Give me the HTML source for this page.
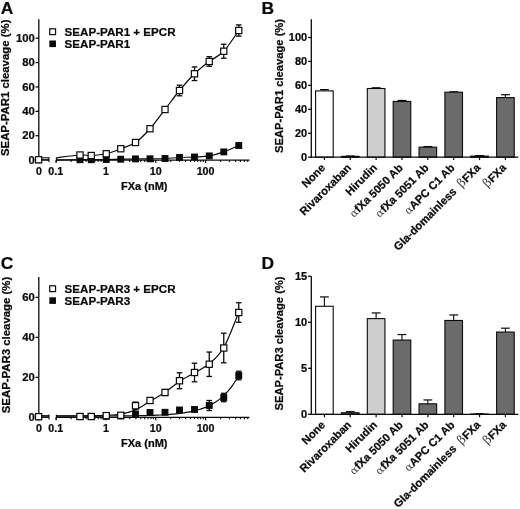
<!DOCTYPE html>
<html lang="en">
<head>
<meta charset="utf-8">
<title>SEAP-PAR1 and SEAP-PAR3 cleavage by FXa</title>
<style>
html,body{margin:0;padding:0;background:#fff;}
body{width:520px;height:509px;overflow:hidden;}
svg{display:block;will-change:transform;opacity:0.9999;}
svg text{font-family:'Liberation Sans', Arial, sans-serif;fill:#0a0a0a;stroke:#0a0a0a;stroke-width:0.24px;}
svg .b{font-family:'DejaVu Serif', 'Liberation Serif', serif;font-weight:normal;fill:#3c3c3c;stroke:none;font-size:12.2px;}
svg .g{font-family:'DejaVu Serif', 'Liberation Serif', serif;font-weight:normal;fill:#3c3c3c;stroke:none;font-size:10.6px;}
</style>
</head>
<body>
<svg width="520" height="509" viewBox="0 0 520 509">
<rect x="0" y="0" width="520" height="509" fill="#ffffff"/>
<text x="0.80" y="13.50" font-size="17.4" text-anchor="start" font-weight="bold" >A</text>
<line x1="38.80" y1="19.30" x2="38.80" y2="160.75" stroke="#0a0a0a" stroke-width="1.3" stroke-linecap="butt"/>
<line x1="35.60" y1="160.10" x2="38.80" y2="160.10" stroke="#0a0a0a" stroke-width="1.3" stroke-linecap="butt"/>
<text x="34.80" y="163.70" font-size="11.3" text-anchor="end" font-weight="bold" >0</text>
<line x1="35.60" y1="135.72" x2="38.80" y2="135.72" stroke="#0a0a0a" stroke-width="1.3" stroke-linecap="butt"/>
<text x="34.80" y="139.32" font-size="11.3" text-anchor="end" font-weight="bold" >20</text>
<line x1="35.60" y1="111.34" x2="38.80" y2="111.34" stroke="#0a0a0a" stroke-width="1.3" stroke-linecap="butt"/>
<text x="34.80" y="114.94" font-size="11.3" text-anchor="end" font-weight="bold" >40</text>
<line x1="35.60" y1="86.96" x2="38.80" y2="86.96" stroke="#0a0a0a" stroke-width="1.3" stroke-linecap="butt"/>
<text x="34.80" y="90.56" font-size="11.3" text-anchor="end" font-weight="bold" >60</text>
<line x1="35.60" y1="62.58" x2="38.80" y2="62.58" stroke="#0a0a0a" stroke-width="1.3" stroke-linecap="butt"/>
<text x="34.80" y="66.18" font-size="11.3" text-anchor="end" font-weight="bold" >80</text>
<line x1="35.60" y1="38.20" x2="38.80" y2="38.20" stroke="#0a0a0a" stroke-width="1.3" stroke-linecap="butt"/>
<text x="34.80" y="41.80" font-size="11.3" text-anchor="end" font-weight="bold" >100</text>
<text transform="translate(9.3,87.8) rotate(-90)" font-size="11.4" text-anchor="middle" font-weight="bold">SEAP-PAR1 cleavage (%)</text>
<line x1="38.80" y1="160.10" x2="49.00" y2="160.10" stroke="#0a0a0a" stroke-width="1.2" stroke-linecap="butt"/>
<line x1="56.40" y1="160.10" x2="249.40" y2="160.10" stroke="#0a0a0a" stroke-width="1.2" stroke-linecap="butt"/>
<line x1="49.00" y1="157.20" x2="49.00" y2="162.20" stroke="#0a0a0a" stroke-width="1.1" stroke-linecap="butt"/>
<line x1="56.40" y1="157.50" x2="56.40" y2="162.20" stroke="#0a0a0a" stroke-width="1.1" stroke-linecap="butt"/>
<line x1="38.80" y1="160.10" x2="38.80" y2="163.30" stroke="#0a0a0a" stroke-width="1.3" stroke-linecap="butt"/>
<line x1="56.05" y1="160.10" x2="56.05" y2="163.00" stroke="#0a0a0a" stroke-width="1.2" stroke-linecap="butt"/>
<line x1="71.06" y1="160.10" x2="71.06" y2="161.90" stroke="#0a0a0a" stroke-width="1.1" stroke-linecap="butt"/>
<line x1="79.83" y1="160.10" x2="79.83" y2="161.90" stroke="#0a0a0a" stroke-width="1.1" stroke-linecap="butt"/>
<line x1="86.06" y1="160.10" x2="86.06" y2="161.90" stroke="#0a0a0a" stroke-width="1.1" stroke-linecap="butt"/>
<line x1="90.89" y1="160.10" x2="90.89" y2="161.90" stroke="#0a0a0a" stroke-width="1.1" stroke-linecap="butt"/>
<line x1="94.84" y1="160.10" x2="94.84" y2="161.90" stroke="#0a0a0a" stroke-width="1.1" stroke-linecap="butt"/>
<line x1="98.18" y1="160.10" x2="98.18" y2="161.90" stroke="#0a0a0a" stroke-width="1.1" stroke-linecap="butt"/>
<line x1="101.07" y1="160.10" x2="101.07" y2="161.90" stroke="#0a0a0a" stroke-width="1.1" stroke-linecap="butt"/>
<line x1="103.62" y1="160.10" x2="103.62" y2="161.90" stroke="#0a0a0a" stroke-width="1.1" stroke-linecap="butt"/>
<line x1="105.90" y1="160.10" x2="105.90" y2="163.00" stroke="#0a0a0a" stroke-width="1.2" stroke-linecap="butt"/>
<line x1="120.91" y1="160.10" x2="120.91" y2="161.90" stroke="#0a0a0a" stroke-width="1.1" stroke-linecap="butt"/>
<line x1="129.68" y1="160.10" x2="129.68" y2="161.90" stroke="#0a0a0a" stroke-width="1.1" stroke-linecap="butt"/>
<line x1="135.91" y1="160.10" x2="135.91" y2="161.90" stroke="#0a0a0a" stroke-width="1.1" stroke-linecap="butt"/>
<line x1="140.74" y1="160.10" x2="140.74" y2="161.90" stroke="#0a0a0a" stroke-width="1.1" stroke-linecap="butt"/>
<line x1="144.69" y1="160.10" x2="144.69" y2="161.90" stroke="#0a0a0a" stroke-width="1.1" stroke-linecap="butt"/>
<line x1="148.03" y1="160.10" x2="148.03" y2="161.90" stroke="#0a0a0a" stroke-width="1.1" stroke-linecap="butt"/>
<line x1="150.92" y1="160.10" x2="150.92" y2="161.90" stroke="#0a0a0a" stroke-width="1.1" stroke-linecap="butt"/>
<line x1="153.47" y1="160.10" x2="153.47" y2="161.90" stroke="#0a0a0a" stroke-width="1.1" stroke-linecap="butt"/>
<line x1="155.75" y1="160.10" x2="155.75" y2="163.00" stroke="#0a0a0a" stroke-width="1.2" stroke-linecap="butt"/>
<line x1="170.76" y1="160.10" x2="170.76" y2="161.90" stroke="#0a0a0a" stroke-width="1.1" stroke-linecap="butt"/>
<line x1="179.53" y1="160.10" x2="179.53" y2="161.90" stroke="#0a0a0a" stroke-width="1.1" stroke-linecap="butt"/>
<line x1="185.76" y1="160.10" x2="185.76" y2="161.90" stroke="#0a0a0a" stroke-width="1.1" stroke-linecap="butt"/>
<line x1="190.59" y1="160.10" x2="190.59" y2="161.90" stroke="#0a0a0a" stroke-width="1.1" stroke-linecap="butt"/>
<line x1="194.54" y1="160.10" x2="194.54" y2="161.90" stroke="#0a0a0a" stroke-width="1.1" stroke-linecap="butt"/>
<line x1="197.88" y1="160.10" x2="197.88" y2="161.90" stroke="#0a0a0a" stroke-width="1.1" stroke-linecap="butt"/>
<line x1="200.77" y1="160.10" x2="200.77" y2="161.90" stroke="#0a0a0a" stroke-width="1.1" stroke-linecap="butt"/>
<line x1="203.32" y1="160.10" x2="203.32" y2="161.90" stroke="#0a0a0a" stroke-width="1.1" stroke-linecap="butt"/>
<line x1="205.60" y1="160.10" x2="205.60" y2="163.00" stroke="#0a0a0a" stroke-width="1.2" stroke-linecap="butt"/>
<line x1="220.61" y1="160.10" x2="220.61" y2="161.90" stroke="#0a0a0a" stroke-width="1.1" stroke-linecap="butt"/>
<line x1="229.38" y1="160.10" x2="229.38" y2="161.90" stroke="#0a0a0a" stroke-width="1.1" stroke-linecap="butt"/>
<line x1="235.61" y1="160.10" x2="235.61" y2="161.90" stroke="#0a0a0a" stroke-width="1.1" stroke-linecap="butt"/>
<line x1="240.44" y1="160.10" x2="240.44" y2="161.90" stroke="#0a0a0a" stroke-width="1.1" stroke-linecap="butt"/>
<line x1="244.39" y1="160.10" x2="244.39" y2="161.90" stroke="#0a0a0a" stroke-width="1.1" stroke-linecap="butt"/>
<line x1="247.73" y1="160.10" x2="247.73" y2="161.90" stroke="#0a0a0a" stroke-width="1.1" stroke-linecap="butt"/>
<text x="39.00" y="174.80" font-size="10.7" text-anchor="middle" font-weight="bold" >0</text>
<text x="55.80" y="174.80" font-size="10.7" text-anchor="middle" font-weight="bold" >0.1</text>
<text x="105.90" y="174.80" font-size="10.7" text-anchor="middle" font-weight="bold" >1</text>
<text x="155.75" y="174.80" font-size="10.7" text-anchor="middle" font-weight="bold" >10</text>
<text x="205.60" y="174.80" font-size="10.7" text-anchor="middle" font-weight="bold" >100</text>
<text x="144.30" y="190.10" font-size="11" text-anchor="middle" font-weight="bold" >FXa (nM)</text>
<rect x="49.75" y="28.80" width="5.80" height="5.80" fill="#fff" stroke="#0a0a0a" stroke-width="1.2"/>
<rect x="49.35" y="40.50" width="6.60" height="6.60" fill="#0a0a0a" stroke="#0a0a0a" stroke-width="0"/>
<text x="64.60" y="35.70" font-size="11.6" text-anchor="start" font-weight="bold" >SEAP-PAR1 + EPCR</text>
<text x="64.60" y="47.80" font-size="11.6" text-anchor="start" font-weight="bold" >SEAP-PAR1</text>
<line x1="38.80" y1="159.80" x2="49.00" y2="159.80" stroke="#0a0a0a" stroke-width="1.1" stroke-linecap="butt"/>
<path d="M56.40,159.80 C60.33,159.78 74.19,159.72 80.00,159.70 C85.81,159.68 86.88,159.73 91.25,159.70 C95.62,159.67 101.33,159.58 106.25,159.50 C111.17,159.42 115.88,159.30 120.75,159.20 C125.62,159.10 130.62,158.97 135.50,158.90 C140.38,158.83 145.08,158.87 150.00,158.80 C154.92,158.73 160.08,158.72 165.00,158.50 C169.92,158.28 174.58,157.75 179.50,157.50 C184.42,157.25 189.54,157.27 194.50,157.00 C199.46,156.73 204.38,156.75 209.25,155.90 C214.12,155.05 218.83,153.63 223.75,151.90 C228.67,150.17 236.25,146.57 238.75,145.50" fill="none" stroke="#0a0a0a" stroke-width="1.2"/>
<line x1="38.80" y1="157.80" x2="49.00" y2="157.80" stroke="#0a0a0a" stroke-width="1.1" stroke-linecap="butt"/>
<path d="M56.40,157.80 C60.33,157.33 74.19,155.38 80.00,155.00 C85.81,154.62 86.88,155.71 91.25,155.50 C95.62,155.29 101.33,154.88 106.25,153.75 C111.17,152.62 115.88,150.62 120.75,148.75 C125.62,146.88 130.62,145.83 135.50,142.50 C140.38,139.17 145.08,134.25 150.00,128.75 C154.92,123.25 160.08,115.88 165.00,109.50 C169.92,103.12 174.58,96.46 179.50,90.50 C184.42,84.54 189.54,78.58 194.50,73.75 C199.46,68.92 204.38,65.25 209.25,61.50 C214.12,57.75 218.83,56.42 223.75,51.25 C228.67,46.08 236.25,33.96 238.75,30.50" fill="none" stroke="#0a0a0a" stroke-width="1.2"/>
<rect x="35.15" y="156.30" width="6.90" height="6.90" fill="#0a0a0a" stroke="#0a0a0a" stroke-width="0"/>
<rect x="76.55" y="156.25" width="6.90" height="6.90" fill="#0a0a0a" stroke="#0a0a0a" stroke-width="0"/>
<rect x="87.80" y="156.25" width="6.90" height="6.90" fill="#0a0a0a" stroke="#0a0a0a" stroke-width="0"/>
<rect x="102.80" y="156.05" width="6.90" height="6.90" fill="#0a0a0a" stroke="#0a0a0a" stroke-width="0"/>
<rect x="117.30" y="155.75" width="6.90" height="6.90" fill="#0a0a0a" stroke="#0a0a0a" stroke-width="0"/>
<rect x="132.05" y="155.45" width="6.90" height="6.90" fill="#0a0a0a" stroke="#0a0a0a" stroke-width="0"/>
<rect x="146.55" y="155.35" width="6.90" height="6.90" fill="#0a0a0a" stroke="#0a0a0a" stroke-width="0"/>
<rect x="161.55" y="155.05" width="6.90" height="6.90" fill="#0a0a0a" stroke="#0a0a0a" stroke-width="0"/>
<rect x="176.05" y="154.05" width="6.90" height="6.90" fill="#0a0a0a" stroke="#0a0a0a" stroke-width="0"/>
<rect x="191.05" y="153.55" width="6.90" height="6.90" fill="#0a0a0a" stroke="#0a0a0a" stroke-width="0"/>
<rect x="205.80" y="152.45" width="6.90" height="6.90" fill="#0a0a0a" stroke="#0a0a0a" stroke-width="0"/>
<rect x="220.30" y="148.45" width="6.90" height="6.90" fill="#0a0a0a" stroke="#0a0a0a" stroke-width="0"/>
<rect x="235.30" y="142.05" width="6.90" height="6.90" fill="#0a0a0a" stroke="#0a0a0a" stroke-width="0"/>
<line x1="150.00" y1="128.75" x2="150.00" y2="127.25" stroke="#0a0a0a" stroke-width="1.3" stroke-linecap="butt"/>
<line x1="147.20" y1="127.25" x2="152.80" y2="127.25" stroke="#0a0a0a" stroke-width="1.3" stroke-linecap="butt"/>
<line x1="150.00" y1="128.75" x2="150.00" y2="130.25" stroke="#0a0a0a" stroke-width="1.3" stroke-linecap="butt"/>
<line x1="147.20" y1="130.25" x2="152.80" y2="130.25" stroke="#0a0a0a" stroke-width="1.3" stroke-linecap="butt"/>
<line x1="165.00" y1="109.50" x2="165.00" y2="107.00" stroke="#0a0a0a" stroke-width="1.3" stroke-linecap="butt"/>
<line x1="162.20" y1="107.00" x2="167.80" y2="107.00" stroke="#0a0a0a" stroke-width="1.3" stroke-linecap="butt"/>
<line x1="165.00" y1="109.50" x2="165.00" y2="112.00" stroke="#0a0a0a" stroke-width="1.3" stroke-linecap="butt"/>
<line x1="162.20" y1="112.00" x2="167.80" y2="112.00" stroke="#0a0a0a" stroke-width="1.3" stroke-linecap="butt"/>
<line x1="179.50" y1="90.50" x2="179.50" y2="85.20" stroke="#0a0a0a" stroke-width="1.3" stroke-linecap="butt"/>
<line x1="176.70" y1="85.20" x2="182.30" y2="85.20" stroke="#0a0a0a" stroke-width="1.3" stroke-linecap="butt"/>
<line x1="179.50" y1="90.50" x2="179.50" y2="95.80" stroke="#0a0a0a" stroke-width="1.3" stroke-linecap="butt"/>
<line x1="176.70" y1="95.80" x2="182.30" y2="95.80" stroke="#0a0a0a" stroke-width="1.3" stroke-linecap="butt"/>
<line x1="194.50" y1="73.75" x2="194.50" y2="66.95" stroke="#0a0a0a" stroke-width="1.3" stroke-linecap="butt"/>
<line x1="191.70" y1="66.95" x2="197.30" y2="66.95" stroke="#0a0a0a" stroke-width="1.3" stroke-linecap="butt"/>
<line x1="194.50" y1="73.75" x2="194.50" y2="80.55" stroke="#0a0a0a" stroke-width="1.3" stroke-linecap="butt"/>
<line x1="191.70" y1="80.55" x2="197.30" y2="80.55" stroke="#0a0a0a" stroke-width="1.3" stroke-linecap="butt"/>
<line x1="209.25" y1="61.50" x2="209.25" y2="56.70" stroke="#0a0a0a" stroke-width="1.3" stroke-linecap="butt"/>
<line x1="206.45" y1="56.70" x2="212.05" y2="56.70" stroke="#0a0a0a" stroke-width="1.3" stroke-linecap="butt"/>
<line x1="209.25" y1="61.50" x2="209.25" y2="66.30" stroke="#0a0a0a" stroke-width="1.3" stroke-linecap="butt"/>
<line x1="206.45" y1="66.30" x2="212.05" y2="66.30" stroke="#0a0a0a" stroke-width="1.3" stroke-linecap="butt"/>
<line x1="223.75" y1="51.25" x2="223.75" y2="44.25" stroke="#0a0a0a" stroke-width="1.3" stroke-linecap="butt"/>
<line x1="220.95" y1="44.25" x2="226.55" y2="44.25" stroke="#0a0a0a" stroke-width="1.3" stroke-linecap="butt"/>
<line x1="223.75" y1="51.25" x2="223.75" y2="58.25" stroke="#0a0a0a" stroke-width="1.3" stroke-linecap="butt"/>
<line x1="220.95" y1="58.25" x2="226.55" y2="58.25" stroke="#0a0a0a" stroke-width="1.3" stroke-linecap="butt"/>
<line x1="238.75" y1="30.50" x2="238.75" y2="24.90" stroke="#0a0a0a" stroke-width="1.3" stroke-linecap="butt"/>
<line x1="235.95" y1="24.90" x2="241.55" y2="24.90" stroke="#0a0a0a" stroke-width="1.3" stroke-linecap="butt"/>
<line x1="238.75" y1="30.50" x2="238.75" y2="36.10" stroke="#0a0a0a" stroke-width="1.3" stroke-linecap="butt"/>
<line x1="235.95" y1="36.10" x2="241.55" y2="36.10" stroke="#0a0a0a" stroke-width="1.3" stroke-linecap="butt"/>
<rect x="35.50" y="156.65" width="6.20" height="6.20" fill="#fff" stroke="#0a0a0a" stroke-width="1.2"/>
<rect x="76.90" y="151.90" width="6.20" height="6.20" fill="#fff" stroke="#0a0a0a" stroke-width="1.2"/>
<rect x="88.15" y="152.40" width="6.20" height="6.20" fill="#fff" stroke="#0a0a0a" stroke-width="1.2"/>
<rect x="103.15" y="150.65" width="6.20" height="6.20" fill="#fff" stroke="#0a0a0a" stroke-width="1.2"/>
<rect x="117.65" y="145.65" width="6.20" height="6.20" fill="#fff" stroke="#0a0a0a" stroke-width="1.2"/>
<rect x="132.40" y="139.40" width="6.20" height="6.20" fill="#fff" stroke="#0a0a0a" stroke-width="1.2"/>
<rect x="146.90" y="125.65" width="6.20" height="6.20" fill="#fff" stroke="#0a0a0a" stroke-width="1.2"/>
<rect x="161.90" y="106.40" width="6.20" height="6.20" fill="#fff" stroke="#0a0a0a" stroke-width="1.2"/>
<rect x="176.40" y="87.40" width="6.20" height="6.20" fill="#fff" stroke="#0a0a0a" stroke-width="1.2"/>
<rect x="191.40" y="70.65" width="6.20" height="6.20" fill="#fff" stroke="#0a0a0a" stroke-width="1.2"/>
<rect x="206.15" y="58.40" width="6.20" height="6.20" fill="#fff" stroke="#0a0a0a" stroke-width="1.2"/>
<rect x="220.65" y="48.15" width="6.20" height="6.20" fill="#fff" stroke="#0a0a0a" stroke-width="1.2"/>
<rect x="235.65" y="27.40" width="6.20" height="6.20" fill="#fff" stroke="#0a0a0a" stroke-width="1.2"/>
<text x="0.80" y="268.60" font-size="17.4" text-anchor="start" font-weight="bold" >C</text>
<line x1="38.80" y1="277.00" x2="38.80" y2="418.00" stroke="#0a0a0a" stroke-width="1.3" stroke-linecap="butt"/>
<line x1="35.60" y1="417.35" x2="38.80" y2="417.35" stroke="#0a0a0a" stroke-width="1.3" stroke-linecap="butt"/>
<text x="34.80" y="420.95" font-size="11.3" text-anchor="end" font-weight="bold" >0</text>
<line x1="35.60" y1="377.35" x2="38.80" y2="377.35" stroke="#0a0a0a" stroke-width="1.3" stroke-linecap="butt"/>
<text x="34.80" y="380.95" font-size="11.3" text-anchor="end" font-weight="bold" >20</text>
<line x1="35.60" y1="337.35" x2="38.80" y2="337.35" stroke="#0a0a0a" stroke-width="1.3" stroke-linecap="butt"/>
<text x="34.80" y="340.95" font-size="11.3" text-anchor="end" font-weight="bold" >40</text>
<line x1="35.60" y1="297.35" x2="38.80" y2="297.35" stroke="#0a0a0a" stroke-width="1.3" stroke-linecap="butt"/>
<text x="34.80" y="300.95" font-size="11.3" text-anchor="end" font-weight="bold" >60</text>
<text transform="translate(9.8,345.0) rotate(-90)" font-size="11.4" text-anchor="middle" font-weight="bold">SEAP-PAR3 cleavage (%)</text>
<line x1="38.80" y1="417.35" x2="49.00" y2="417.35" stroke="#0a0a0a" stroke-width="1.2" stroke-linecap="butt"/>
<line x1="56.40" y1="417.35" x2="249.40" y2="417.35" stroke="#0a0a0a" stroke-width="1.2" stroke-linecap="butt"/>
<line x1="49.00" y1="414.45" x2="49.00" y2="419.45" stroke="#0a0a0a" stroke-width="1.1" stroke-linecap="butt"/>
<line x1="56.40" y1="414.75" x2="56.40" y2="419.45" stroke="#0a0a0a" stroke-width="1.1" stroke-linecap="butt"/>
<line x1="38.80" y1="417.35" x2="38.80" y2="420.55" stroke="#0a0a0a" stroke-width="1.3" stroke-linecap="butt"/>
<line x1="56.05" y1="417.35" x2="56.05" y2="420.25" stroke="#0a0a0a" stroke-width="1.2" stroke-linecap="butt"/>
<line x1="71.06" y1="417.35" x2="71.06" y2="419.15" stroke="#0a0a0a" stroke-width="1.1" stroke-linecap="butt"/>
<line x1="79.83" y1="417.35" x2="79.83" y2="419.15" stroke="#0a0a0a" stroke-width="1.1" stroke-linecap="butt"/>
<line x1="86.06" y1="417.35" x2="86.06" y2="419.15" stroke="#0a0a0a" stroke-width="1.1" stroke-linecap="butt"/>
<line x1="90.89" y1="417.35" x2="90.89" y2="419.15" stroke="#0a0a0a" stroke-width="1.1" stroke-linecap="butt"/>
<line x1="94.84" y1="417.35" x2="94.84" y2="419.15" stroke="#0a0a0a" stroke-width="1.1" stroke-linecap="butt"/>
<line x1="98.18" y1="417.35" x2="98.18" y2="419.15" stroke="#0a0a0a" stroke-width="1.1" stroke-linecap="butt"/>
<line x1="101.07" y1="417.35" x2="101.07" y2="419.15" stroke="#0a0a0a" stroke-width="1.1" stroke-linecap="butt"/>
<line x1="103.62" y1="417.35" x2="103.62" y2="419.15" stroke="#0a0a0a" stroke-width="1.1" stroke-linecap="butt"/>
<line x1="105.90" y1="417.35" x2="105.90" y2="420.25" stroke="#0a0a0a" stroke-width="1.2" stroke-linecap="butt"/>
<line x1="120.91" y1="417.35" x2="120.91" y2="419.15" stroke="#0a0a0a" stroke-width="1.1" stroke-linecap="butt"/>
<line x1="129.68" y1="417.35" x2="129.68" y2="419.15" stroke="#0a0a0a" stroke-width="1.1" stroke-linecap="butt"/>
<line x1="135.91" y1="417.35" x2="135.91" y2="419.15" stroke="#0a0a0a" stroke-width="1.1" stroke-linecap="butt"/>
<line x1="140.74" y1="417.35" x2="140.74" y2="419.15" stroke="#0a0a0a" stroke-width="1.1" stroke-linecap="butt"/>
<line x1="144.69" y1="417.35" x2="144.69" y2="419.15" stroke="#0a0a0a" stroke-width="1.1" stroke-linecap="butt"/>
<line x1="148.03" y1="417.35" x2="148.03" y2="419.15" stroke="#0a0a0a" stroke-width="1.1" stroke-linecap="butt"/>
<line x1="150.92" y1="417.35" x2="150.92" y2="419.15" stroke="#0a0a0a" stroke-width="1.1" stroke-linecap="butt"/>
<line x1="153.47" y1="417.35" x2="153.47" y2="419.15" stroke="#0a0a0a" stroke-width="1.1" stroke-linecap="butt"/>
<line x1="155.75" y1="417.35" x2="155.75" y2="420.25" stroke="#0a0a0a" stroke-width="1.2" stroke-linecap="butt"/>
<line x1="170.76" y1="417.35" x2="170.76" y2="419.15" stroke="#0a0a0a" stroke-width="1.1" stroke-linecap="butt"/>
<line x1="179.53" y1="417.35" x2="179.53" y2="419.15" stroke="#0a0a0a" stroke-width="1.1" stroke-linecap="butt"/>
<line x1="185.76" y1="417.35" x2="185.76" y2="419.15" stroke="#0a0a0a" stroke-width="1.1" stroke-linecap="butt"/>
<line x1="190.59" y1="417.35" x2="190.59" y2="419.15" stroke="#0a0a0a" stroke-width="1.1" stroke-linecap="butt"/>
<line x1="194.54" y1="417.35" x2="194.54" y2="419.15" stroke="#0a0a0a" stroke-width="1.1" stroke-linecap="butt"/>
<line x1="197.88" y1="417.35" x2="197.88" y2="419.15" stroke="#0a0a0a" stroke-width="1.1" stroke-linecap="butt"/>
<line x1="200.77" y1="417.35" x2="200.77" y2="419.15" stroke="#0a0a0a" stroke-width="1.1" stroke-linecap="butt"/>
<line x1="203.32" y1="417.35" x2="203.32" y2="419.15" stroke="#0a0a0a" stroke-width="1.1" stroke-linecap="butt"/>
<line x1="205.60" y1="417.35" x2="205.60" y2="420.25" stroke="#0a0a0a" stroke-width="1.2" stroke-linecap="butt"/>
<line x1="220.61" y1="417.35" x2="220.61" y2="419.15" stroke="#0a0a0a" stroke-width="1.1" stroke-linecap="butt"/>
<line x1="229.38" y1="417.35" x2="229.38" y2="419.15" stroke="#0a0a0a" stroke-width="1.1" stroke-linecap="butt"/>
<line x1="235.61" y1="417.35" x2="235.61" y2="419.15" stroke="#0a0a0a" stroke-width="1.1" stroke-linecap="butt"/>
<line x1="240.44" y1="417.35" x2="240.44" y2="419.15" stroke="#0a0a0a" stroke-width="1.1" stroke-linecap="butt"/>
<line x1="244.39" y1="417.35" x2="244.39" y2="419.15" stroke="#0a0a0a" stroke-width="1.1" stroke-linecap="butt"/>
<line x1="247.73" y1="417.35" x2="247.73" y2="419.15" stroke="#0a0a0a" stroke-width="1.1" stroke-linecap="butt"/>
<text x="39.00" y="432.05" font-size="10.7" text-anchor="middle" font-weight="bold" >0</text>
<text x="55.80" y="432.05" font-size="10.7" text-anchor="middle" font-weight="bold" >0.1</text>
<text x="105.90" y="432.05" font-size="10.7" text-anchor="middle" font-weight="bold" >1</text>
<text x="155.75" y="432.05" font-size="10.7" text-anchor="middle" font-weight="bold" >10</text>
<text x="205.60" y="432.05" font-size="10.7" text-anchor="middle" font-weight="bold" >100</text>
<text x="144.30" y="447.40" font-size="11" text-anchor="middle" font-weight="bold" >FXa (nM)</text>
<rect x="49.75" y="285.80" width="5.80" height="5.80" fill="#fff" stroke="#0a0a0a" stroke-width="1.2"/>
<rect x="49.35" y="297.30" width="6.60" height="6.60" fill="#0a0a0a" stroke="#0a0a0a" stroke-width="0"/>
<text x="64.60" y="292.70" font-size="11.6" text-anchor="start" font-weight="bold" >SEAP-PAR3 + EPCR</text>
<text x="64.60" y="304.60" font-size="11.6" text-anchor="start" font-weight="bold" >SEAP-PAR3</text>
<line x1="38.80" y1="416.10" x2="49.00" y2="416.10" stroke="#0a0a0a" stroke-width="1.1" stroke-linecap="butt"/>
<path d="M56.40,416.10 C60.33,416.10 75.40,416.08 80.00,416.07 C84.60,416.07 82.67,416.07 84.00,416.07 C85.33,416.07 86.67,416.06 88.00,416.06 C89.33,416.06 90.67,416.06 92.00,416.05 C93.33,416.05 94.67,416.05 96.00,416.04 C97.33,416.04 98.67,416.04 100.00,416.03 C101.33,416.03 102.67,416.02 104.00,416.02 C105.33,416.01 106.67,416.01 108.00,416.00 C109.33,416.00 110.67,415.99 112.00,415.98 C113.33,415.98 114.67,415.97 116.00,415.96 C117.33,415.95 118.67,415.94 120.00,415.93 C121.33,415.92 122.67,415.91 124.00,415.90 C125.33,415.88 126.67,415.87 128.00,415.85 C129.33,415.84 130.67,415.82 132.00,415.80 C133.33,415.79 134.67,415.77 136.00,415.74 C137.33,415.72 138.67,415.70 140.00,415.67 C141.33,415.65 142.67,415.62 144.00,415.59 C145.33,415.55 146.67,415.52 148.00,415.48 C149.33,415.44 150.67,415.40 152.00,415.35 C153.33,415.31 154.67,415.26 156.00,415.20 C157.33,415.15 158.67,415.09 160.00,415.02 C161.33,414.96 162.67,414.88 164.00,414.80 C165.33,414.72 166.67,414.64 168.00,414.54 C169.33,414.44 170.67,414.34 172.00,414.22 C173.33,414.11 174.67,413.98 176.00,413.84 C177.33,413.70 178.67,413.55 180.00,413.38 C181.33,413.22 182.67,413.04 184.00,412.83 C185.33,412.63 186.67,412.41 188.00,412.17 C189.33,411.93 190.67,411.67 192.00,411.37 C193.33,411.08 194.67,410.77 196.00,410.41 C197.33,410.06 198.67,409.68 200.00,409.26 C201.33,408.84 202.67,408.38 204.00,407.87 C205.33,407.36 206.67,406.81 208.00,406.20 C209.33,405.59 210.67,404.93 212.00,404.19 C213.33,403.46 214.67,402.66 216.00,401.78 C217.33,400.89 218.67,399.94 220.00,398.87 C221.33,397.80 222.67,396.66 224.00,395.37 C225.33,394.09 226.67,392.71 228.00,391.17 C229.33,389.62 230.67,387.96 232.00,386.11 C233.33,384.25 234.88,381.79 236.00,380.02 C237.12,378.25 238.29,376.25 238.75,375.50" fill="none" stroke="#0a0a0a" stroke-width="1.2"/>
<line x1="38.80" y1="415.75" x2="49.00" y2="415.75" stroke="#0a0a0a" stroke-width="1.1" stroke-linecap="butt"/>
<path d="M56.40,415.75 C60.33,415.75 74.19,415.76 80.00,415.75 C85.81,415.74 86.88,415.77 91.25,415.70 C95.62,415.62 101.33,415.58 106.25,415.30 C111.17,415.02 115.88,414.88 120.75,414.00 C125.62,413.12 130.62,412.12 135.50,410.00 C140.38,407.88 145.08,404.27 150.00,401.30 C154.92,398.33 160.08,395.50 165.00,392.20 C169.92,388.90 174.58,384.73 179.50,381.50 C184.42,378.27 189.54,375.75 194.50,372.80 C199.46,369.85 204.38,368.02 209.25,363.80 C214.12,359.58 218.83,356.05 223.75,347.50 C228.67,338.95 236.25,318.33 238.75,312.50" fill="none" stroke="#0a0a0a" stroke-width="1.2"/>
<line x1="194.50" y1="409.50" x2="194.50" y2="408.00" stroke="#0a0a0a" stroke-width="1.3" stroke-linecap="butt"/>
<line x1="191.70" y1="408.00" x2="197.30" y2="408.00" stroke="#0a0a0a" stroke-width="1.3" stroke-linecap="butt"/>
<line x1="194.50" y1="409.50" x2="194.50" y2="411.00" stroke="#0a0a0a" stroke-width="1.3" stroke-linecap="butt"/>
<line x1="191.70" y1="411.00" x2="197.30" y2="411.00" stroke="#0a0a0a" stroke-width="1.3" stroke-linecap="butt"/>
<line x1="209.25" y1="405.50" x2="209.25" y2="400.50" stroke="#0a0a0a" stroke-width="1.3" stroke-linecap="butt"/>
<line x1="206.45" y1="400.50" x2="212.05" y2="400.50" stroke="#0a0a0a" stroke-width="1.3" stroke-linecap="butt"/>
<line x1="209.25" y1="405.50" x2="209.25" y2="410.50" stroke="#0a0a0a" stroke-width="1.3" stroke-linecap="butt"/>
<line x1="206.45" y1="410.50" x2="212.05" y2="410.50" stroke="#0a0a0a" stroke-width="1.3" stroke-linecap="butt"/>
<line x1="223.75" y1="397.50" x2="223.75" y2="393.30" stroke="#0a0a0a" stroke-width="1.3" stroke-linecap="butt"/>
<line x1="220.95" y1="393.30" x2="226.55" y2="393.30" stroke="#0a0a0a" stroke-width="1.3" stroke-linecap="butt"/>
<line x1="223.75" y1="397.50" x2="223.75" y2="401.70" stroke="#0a0a0a" stroke-width="1.3" stroke-linecap="butt"/>
<line x1="220.95" y1="401.70" x2="226.55" y2="401.70" stroke="#0a0a0a" stroke-width="1.3" stroke-linecap="butt"/>
<line x1="238.75" y1="375.50" x2="238.75" y2="371.20" stroke="#0a0a0a" stroke-width="1.3" stroke-linecap="butt"/>
<line x1="235.95" y1="371.20" x2="241.55" y2="371.20" stroke="#0a0a0a" stroke-width="1.3" stroke-linecap="butt"/>
<line x1="238.75" y1="375.50" x2="238.75" y2="379.80" stroke="#0a0a0a" stroke-width="1.3" stroke-linecap="butt"/>
<line x1="235.95" y1="379.80" x2="241.55" y2="379.80" stroke="#0a0a0a" stroke-width="1.3" stroke-linecap="butt"/>
<rect x="35.15" y="413.25" width="6.90" height="6.90" fill="#0a0a0a" stroke="#0a0a0a" stroke-width="0"/>
<rect x="76.55" y="413.15" width="6.90" height="6.90" fill="#0a0a0a" stroke="#0a0a0a" stroke-width="0"/>
<rect x="87.80" y="413.15" width="6.90" height="6.90" fill="#0a0a0a" stroke="#0a0a0a" stroke-width="0"/>
<rect x="102.80" y="412.85" width="6.90" height="6.90" fill="#0a0a0a" stroke="#0a0a0a" stroke-width="0"/>
<rect x="117.30" y="412.55" width="6.90" height="6.90" fill="#0a0a0a" stroke="#0a0a0a" stroke-width="0"/>
<rect x="132.05" y="410.55" width="6.90" height="6.90" fill="#0a0a0a" stroke="#0a0a0a" stroke-width="0"/>
<rect x="146.55" y="409.05" width="6.90" height="6.90" fill="#0a0a0a" stroke="#0a0a0a" stroke-width="0"/>
<rect x="161.55" y="408.85" width="6.90" height="6.90" fill="#0a0a0a" stroke="#0a0a0a" stroke-width="0"/>
<rect x="176.05" y="406.55" width="6.90" height="6.90" fill="#0a0a0a" stroke="#0a0a0a" stroke-width="0"/>
<rect x="191.05" y="406.05" width="6.90" height="6.90" fill="#0a0a0a" stroke="#0a0a0a" stroke-width="0"/>
<rect x="205.80" y="402.05" width="6.90" height="6.90" fill="#0a0a0a" stroke="#0a0a0a" stroke-width="0"/>
<rect x="220.30" y="394.05" width="6.90" height="6.90" fill="#0a0a0a" stroke="#0a0a0a" stroke-width="0"/>
<rect x="235.30" y="372.05" width="6.90" height="6.90" fill="#0a0a0a" stroke="#0a0a0a" stroke-width="0"/>
<line x1="135.50" y1="405.75" x2="135.50" y2="402.05" stroke="#0a0a0a" stroke-width="1.3" stroke-linecap="butt"/>
<line x1="132.70" y1="402.05" x2="138.30" y2="402.05" stroke="#0a0a0a" stroke-width="1.3" stroke-linecap="butt"/>
<line x1="135.50" y1="405.75" x2="135.50" y2="409.45" stroke="#0a0a0a" stroke-width="1.3" stroke-linecap="butt"/>
<line x1="132.70" y1="409.45" x2="138.30" y2="409.45" stroke="#0a0a0a" stroke-width="1.3" stroke-linecap="butt"/>
<line x1="150.00" y1="400.50" x2="150.00" y2="399.00" stroke="#0a0a0a" stroke-width="1.3" stroke-linecap="butt"/>
<line x1="147.20" y1="399.00" x2="152.80" y2="399.00" stroke="#0a0a0a" stroke-width="1.3" stroke-linecap="butt"/>
<line x1="150.00" y1="400.50" x2="150.00" y2="402.00" stroke="#0a0a0a" stroke-width="1.3" stroke-linecap="butt"/>
<line x1="147.20" y1="402.00" x2="152.80" y2="402.00" stroke="#0a0a0a" stroke-width="1.3" stroke-linecap="butt"/>
<line x1="165.00" y1="392.50" x2="165.00" y2="389.50" stroke="#0a0a0a" stroke-width="1.3" stroke-linecap="butt"/>
<line x1="162.20" y1="389.50" x2="167.80" y2="389.50" stroke="#0a0a0a" stroke-width="1.3" stroke-linecap="butt"/>
<line x1="165.00" y1="392.50" x2="165.00" y2="395.50" stroke="#0a0a0a" stroke-width="1.3" stroke-linecap="butt"/>
<line x1="162.20" y1="395.50" x2="167.80" y2="395.50" stroke="#0a0a0a" stroke-width="1.3" stroke-linecap="butt"/>
<line x1="179.50" y1="380.75" x2="179.50" y2="372.75" stroke="#0a0a0a" stroke-width="1.3" stroke-linecap="butt"/>
<line x1="176.70" y1="372.75" x2="182.30" y2="372.75" stroke="#0a0a0a" stroke-width="1.3" stroke-linecap="butt"/>
<line x1="179.50" y1="380.75" x2="179.50" y2="388.75" stroke="#0a0a0a" stroke-width="1.3" stroke-linecap="butt"/>
<line x1="176.70" y1="388.75" x2="182.30" y2="388.75" stroke="#0a0a0a" stroke-width="1.3" stroke-linecap="butt"/>
<line x1="194.50" y1="372.50" x2="194.50" y2="363.20" stroke="#0a0a0a" stroke-width="1.3" stroke-linecap="butt"/>
<line x1="191.70" y1="363.20" x2="197.30" y2="363.20" stroke="#0a0a0a" stroke-width="1.3" stroke-linecap="butt"/>
<line x1="194.50" y1="372.50" x2="194.50" y2="381.80" stroke="#0a0a0a" stroke-width="1.3" stroke-linecap="butt"/>
<line x1="191.70" y1="381.80" x2="197.30" y2="381.80" stroke="#0a0a0a" stroke-width="1.3" stroke-linecap="butt"/>
<line x1="209.25" y1="364.25" x2="209.25" y2="352.05" stroke="#0a0a0a" stroke-width="1.3" stroke-linecap="butt"/>
<line x1="206.45" y1="352.05" x2="212.05" y2="352.05" stroke="#0a0a0a" stroke-width="1.3" stroke-linecap="butt"/>
<line x1="209.25" y1="364.25" x2="209.25" y2="376.45" stroke="#0a0a0a" stroke-width="1.3" stroke-linecap="butt"/>
<line x1="206.45" y1="376.45" x2="212.05" y2="376.45" stroke="#0a0a0a" stroke-width="1.3" stroke-linecap="butt"/>
<line x1="223.75" y1="348.00" x2="223.75" y2="333.20" stroke="#0a0a0a" stroke-width="1.3" stroke-linecap="butt"/>
<line x1="220.95" y1="333.20" x2="226.55" y2="333.20" stroke="#0a0a0a" stroke-width="1.3" stroke-linecap="butt"/>
<line x1="223.75" y1="348.00" x2="223.75" y2="362.80" stroke="#0a0a0a" stroke-width="1.3" stroke-linecap="butt"/>
<line x1="220.95" y1="362.80" x2="226.55" y2="362.80" stroke="#0a0a0a" stroke-width="1.3" stroke-linecap="butt"/>
<line x1="238.75" y1="312.50" x2="238.75" y2="302.70" stroke="#0a0a0a" stroke-width="1.3" stroke-linecap="butt"/>
<line x1="235.95" y1="302.70" x2="241.55" y2="302.70" stroke="#0a0a0a" stroke-width="1.3" stroke-linecap="butt"/>
<line x1="238.75" y1="312.50" x2="238.75" y2="322.30" stroke="#0a0a0a" stroke-width="1.3" stroke-linecap="butt"/>
<line x1="235.95" y1="322.30" x2="241.55" y2="322.30" stroke="#0a0a0a" stroke-width="1.3" stroke-linecap="butt"/>
<rect x="35.50" y="413.60" width="6.20" height="6.20" fill="#fff" stroke="#0a0a0a" stroke-width="1.2"/>
<rect x="76.90" y="413.40" width="6.20" height="6.20" fill="#fff" stroke="#0a0a0a" stroke-width="1.2"/>
<rect x="88.15" y="413.40" width="6.20" height="6.20" fill="#fff" stroke="#0a0a0a" stroke-width="1.2"/>
<rect x="103.15" y="412.50" width="6.20" height="6.20" fill="#fff" stroke="#0a0a0a" stroke-width="1.2"/>
<rect x="117.65" y="412.20" width="6.20" height="6.20" fill="#fff" stroke="#0a0a0a" stroke-width="1.2"/>
<rect x="132.40" y="402.65" width="6.20" height="6.20" fill="#fff" stroke="#0a0a0a" stroke-width="1.2"/>
<rect x="146.90" y="397.40" width="6.20" height="6.20" fill="#fff" stroke="#0a0a0a" stroke-width="1.2"/>
<rect x="161.90" y="389.40" width="6.20" height="6.20" fill="#fff" stroke="#0a0a0a" stroke-width="1.2"/>
<rect x="176.40" y="377.65" width="6.20" height="6.20" fill="#fff" stroke="#0a0a0a" stroke-width="1.2"/>
<rect x="191.40" y="369.40" width="6.20" height="6.20" fill="#fff" stroke="#0a0a0a" stroke-width="1.2"/>
<rect x="206.15" y="361.15" width="6.20" height="6.20" fill="#fff" stroke="#0a0a0a" stroke-width="1.2"/>
<rect x="220.65" y="344.90" width="6.20" height="6.20" fill="#fff" stroke="#0a0a0a" stroke-width="1.2"/>
<rect x="235.65" y="309.40" width="6.20" height="6.20" fill="#fff" stroke="#0a0a0a" stroke-width="1.2"/>
<text x="261.50" y="13.50" font-size="17.4" text-anchor="start" font-weight="bold" >B</text>
<line x1="324.40" y1="90.89" x2="324.40" y2="89.57" stroke="#0a0a0a" stroke-width="1.1" stroke-linecap="butt"/>
<line x1="320.00" y1="89.57" x2="328.80" y2="89.57" stroke="#0a0a0a" stroke-width="1.2" stroke-linecap="butt"/>
<rect x="315.60" y="90.89" width="17.60" height="66.31" fill="#ffffff" stroke="#0a0a0a" stroke-width="1.1"/>
<line x1="324.40" y1="157.20" x2="324.40" y2="160.10" stroke="#0a0a0a" stroke-width="1.2" stroke-linecap="butt"/>
<text transform="translate(326.00,168.45) rotate(-45)" font-size="11.2" text-anchor="end" font-weight="bold">None</text>
<line x1="350.26" y1="156.36" x2="350.26" y2="156.00" stroke="#0a0a0a" stroke-width="1.1" stroke-linecap="butt"/>
<line x1="345.86" y1="156.00" x2="354.66" y2="156.00" stroke="#0a0a0a" stroke-width="1.2" stroke-linecap="butt"/>
<rect x="341.46" y="156.36" width="17.60" height="0.84" fill="#6b6b6b" stroke="#0a0a0a" stroke-width="1.1"/>
<line x1="350.26" y1="157.20" x2="350.26" y2="160.10" stroke="#0a0a0a" stroke-width="1.2" stroke-linecap="butt"/>
<text transform="translate(351.86,168.45) rotate(-45)" font-size="11.2" text-anchor="end" font-weight="bold">Rivaroxaban</text>
<line x1="376.12" y1="88.49" x2="376.12" y2="87.77" stroke="#0a0a0a" stroke-width="1.1" stroke-linecap="butt"/>
<line x1="371.72" y1="87.77" x2="380.52" y2="87.77" stroke="#0a0a0a" stroke-width="1.2" stroke-linecap="butt"/>
<rect x="367.32" y="88.49" width="17.60" height="68.71" fill="#cecece" stroke="#0a0a0a" stroke-width="1.1"/>
<line x1="376.12" y1="157.20" x2="376.12" y2="160.10" stroke="#0a0a0a" stroke-width="1.2" stroke-linecap="butt"/>
<text transform="translate(377.72,168.45) rotate(-45)" font-size="11.2" text-anchor="end" font-weight="bold">Hirudin</text>
<line x1="401.98" y1="101.42" x2="401.98" y2="100.46" stroke="#0a0a0a" stroke-width="1.1" stroke-linecap="butt"/>
<line x1="397.58" y1="100.46" x2="406.38" y2="100.46" stroke="#0a0a0a" stroke-width="1.2" stroke-linecap="butt"/>
<rect x="393.18" y="101.42" width="17.60" height="55.78" fill="#6b6b6b" stroke="#0a0a0a" stroke-width="1.1"/>
<line x1="401.98" y1="157.20" x2="401.98" y2="160.10" stroke="#0a0a0a" stroke-width="1.2" stroke-linecap="butt"/>
<text transform="translate(403.58,168.45) rotate(-45)" font-size="11.2" text-anchor="end" font-weight="bold"><tspan class='g'>α</tspan>fXa 5050 Ab</text>
<line x1="427.84" y1="147.15" x2="427.84" y2="146.55" stroke="#0a0a0a" stroke-width="1.1" stroke-linecap="butt"/>
<line x1="423.44" y1="146.55" x2="432.24" y2="146.55" stroke="#0a0a0a" stroke-width="1.2" stroke-linecap="butt"/>
<rect x="419.04" y="147.15" width="17.60" height="10.05" fill="#6b6b6b" stroke="#0a0a0a" stroke-width="1.1"/>
<line x1="427.84" y1="157.20" x2="427.84" y2="160.10" stroke="#0a0a0a" stroke-width="1.2" stroke-linecap="butt"/>
<text transform="translate(429.44,168.45) rotate(-45)" font-size="11.2" text-anchor="end" font-weight="bold"><tspan class='g'>α</tspan>fXa 5051 Ab</text>
<line x1="453.70" y1="92.20" x2="453.70" y2="91.84" stroke="#0a0a0a" stroke-width="1.1" stroke-linecap="butt"/>
<line x1="449.30" y1="91.84" x2="458.10" y2="91.84" stroke="#0a0a0a" stroke-width="1.2" stroke-linecap="butt"/>
<rect x="444.90" y="92.20" width="17.60" height="65.00" fill="#6b6b6b" stroke="#0a0a0a" stroke-width="1.1"/>
<line x1="453.70" y1="157.20" x2="453.70" y2="160.10" stroke="#0a0a0a" stroke-width="1.2" stroke-linecap="butt"/>
<text transform="translate(455.30,168.45) rotate(-45)" font-size="11.2" text-anchor="end" font-weight="bold"><tspan class='g'>α</tspan>APC C1 Ab</text>
<line x1="479.56" y1="156.12" x2="479.56" y2="155.64" stroke="#0a0a0a" stroke-width="1.1" stroke-linecap="butt"/>
<line x1="475.16" y1="155.64" x2="483.96" y2="155.64" stroke="#0a0a0a" stroke-width="1.2" stroke-linecap="butt"/>
<rect x="470.76" y="156.12" width="17.60" height="1.08" fill="#6b6b6b" stroke="#0a0a0a" stroke-width="1.1"/>
<line x1="479.56" y1="157.20" x2="479.56" y2="160.10" stroke="#0a0a0a" stroke-width="1.2" stroke-linecap="butt"/>
<text transform="translate(481.16,168.45) rotate(-45)" font-size="11.2" text-anchor="end" font-weight="bold">Gla-domainless&#160; <tspan class='b'>β</tspan>FXa</text>
<line x1="505.42" y1="97.59" x2="505.42" y2="94.72" stroke="#0a0a0a" stroke-width="1.1" stroke-linecap="butt"/>
<line x1="501.02" y1="94.72" x2="509.82" y2="94.72" stroke="#0a0a0a" stroke-width="1.2" stroke-linecap="butt"/>
<rect x="496.62" y="97.59" width="17.60" height="59.61" fill="#6b6b6b" stroke="#0a0a0a" stroke-width="1.1"/>
<line x1="505.42" y1="157.20" x2="505.42" y2="160.10" stroke="#0a0a0a" stroke-width="1.2" stroke-linecap="butt"/>
<text transform="translate(507.02,168.45) rotate(-45)" font-size="11.2" text-anchor="end" font-weight="bold"><tspan class='b'>β</tspan>FXa</text>
<line x1="311.30" y1="19.20" x2="311.30" y2="157.85" stroke="#0a0a0a" stroke-width="1.3" stroke-linecap="butt"/>
<line x1="311.30" y1="157.20" x2="518.30" y2="157.20" stroke="#0a0a0a" stroke-width="1.3" stroke-linecap="butt"/>
<line x1="308.10" y1="157.20" x2="311.30" y2="157.20" stroke="#0a0a0a" stroke-width="1.3" stroke-linecap="butt"/>
<text x="307.20" y="160.60" font-size="11.0" text-anchor="end" font-weight="bold" >0</text>
<line x1="308.10" y1="133.26" x2="311.30" y2="133.26" stroke="#0a0a0a" stroke-width="1.3" stroke-linecap="butt"/>
<text x="307.20" y="136.66" font-size="11.0" text-anchor="end" font-weight="bold" >20</text>
<line x1="308.10" y1="109.32" x2="311.30" y2="109.32" stroke="#0a0a0a" stroke-width="1.3" stroke-linecap="butt"/>
<text x="307.20" y="112.72" font-size="11.0" text-anchor="end" font-weight="bold" >40</text>
<line x1="308.10" y1="85.38" x2="311.30" y2="85.38" stroke="#0a0a0a" stroke-width="1.3" stroke-linecap="butt"/>
<text x="307.20" y="88.78" font-size="11.0" text-anchor="end" font-weight="bold" >60</text>
<line x1="308.10" y1="61.44" x2="311.30" y2="61.44" stroke="#0a0a0a" stroke-width="1.3" stroke-linecap="butt"/>
<text x="307.20" y="64.84" font-size="11.0" text-anchor="end" font-weight="bold" >80</text>
<line x1="308.10" y1="37.50" x2="311.30" y2="37.50" stroke="#0a0a0a" stroke-width="1.3" stroke-linecap="butt"/>
<text x="307.20" y="40.90" font-size="11.0" text-anchor="end" font-weight="bold" >100</text>
<text transform="translate(282.7,86.0) rotate(-90)" font-size="11.2" text-anchor="middle" font-weight="bold">SEAP-PAR1 cleavage (%)</text>
<text x="261.50" y="268.60" font-size="17.4" text-anchor="start" font-weight="bold" >D</text>
<line x1="324.40" y1="306.29" x2="324.40" y2="296.91" stroke="#0a0a0a" stroke-width="1.1" stroke-linecap="butt"/>
<line x1="320.00" y1="296.91" x2="328.80" y2="296.91" stroke="#0a0a0a" stroke-width="1.2" stroke-linecap="butt"/>
<rect x="315.60" y="306.29" width="17.60" height="108.01" fill="#ffffff" stroke="#0a0a0a" stroke-width="1.1"/>
<line x1="324.40" y1="414.30" x2="324.40" y2="417.20" stroke="#0a0a0a" stroke-width="1.2" stroke-linecap="butt"/>
<text transform="translate(326.00,425.55) rotate(-45)" font-size="11.2" text-anchor="end" font-weight="bold">None</text>
<line x1="350.26" y1="412.74" x2="350.26" y2="411.63" stroke="#0a0a0a" stroke-width="1.1" stroke-linecap="butt"/>
<line x1="345.86" y1="411.63" x2="354.66" y2="411.63" stroke="#0a0a0a" stroke-width="1.2" stroke-linecap="butt"/>
<rect x="341.46" y="412.74" width="17.60" height="1.56" fill="#6b6b6b" stroke="#0a0a0a" stroke-width="1.1"/>
<line x1="350.26" y1="414.30" x2="350.26" y2="417.20" stroke="#0a0a0a" stroke-width="1.2" stroke-linecap="butt"/>
<text transform="translate(351.86,425.55) rotate(-45)" font-size="11.2" text-anchor="end" font-weight="bold">Rivaroxaban</text>
<line x1="376.12" y1="318.62" x2="376.12" y2="312.92" stroke="#0a0a0a" stroke-width="1.1" stroke-linecap="butt"/>
<line x1="371.72" y1="312.92" x2="380.52" y2="312.92" stroke="#0a0a0a" stroke-width="1.2" stroke-linecap="butt"/>
<rect x="367.32" y="318.62" width="17.60" height="95.68" fill="#cecece" stroke="#0a0a0a" stroke-width="1.1"/>
<line x1="376.12" y1="414.30" x2="376.12" y2="417.20" stroke="#0a0a0a" stroke-width="1.2" stroke-linecap="butt"/>
<text transform="translate(377.72,425.55) rotate(-45)" font-size="11.2" text-anchor="end" font-weight="bold">Hirudin</text>
<line x1="401.98" y1="340.06" x2="401.98" y2="334.54" stroke="#0a0a0a" stroke-width="1.1" stroke-linecap="butt"/>
<line x1="397.58" y1="334.54" x2="406.38" y2="334.54" stroke="#0a0a0a" stroke-width="1.2" stroke-linecap="butt"/>
<rect x="393.18" y="340.06" width="17.60" height="74.24" fill="#6b6b6b" stroke="#0a0a0a" stroke-width="1.1"/>
<line x1="401.98" y1="414.30" x2="401.98" y2="417.20" stroke="#0a0a0a" stroke-width="1.2" stroke-linecap="butt"/>
<text transform="translate(403.58,425.55) rotate(-45)" font-size="11.2" text-anchor="end" font-weight="bold"><tspan class='g'>α</tspan>fXa 5050 Ab</text>
<line x1="427.84" y1="403.81" x2="427.84" y2="399.95" stroke="#0a0a0a" stroke-width="1.1" stroke-linecap="butt"/>
<line x1="423.44" y1="399.95" x2="432.24" y2="399.95" stroke="#0a0a0a" stroke-width="1.2" stroke-linecap="butt"/>
<rect x="419.04" y="403.81" width="17.60" height="10.49" fill="#6b6b6b" stroke="#0a0a0a" stroke-width="1.1"/>
<line x1="427.84" y1="414.30" x2="427.84" y2="417.20" stroke="#0a0a0a" stroke-width="1.2" stroke-linecap="butt"/>
<text transform="translate(429.44,425.55) rotate(-45)" font-size="11.2" text-anchor="end" font-weight="bold"><tspan class='g'>α</tspan>fXa 5051 Ab</text>
<line x1="453.70" y1="320.46" x2="453.70" y2="314.94" stroke="#0a0a0a" stroke-width="1.1" stroke-linecap="butt"/>
<line x1="449.30" y1="314.94" x2="458.10" y2="314.94" stroke="#0a0a0a" stroke-width="1.2" stroke-linecap="butt"/>
<rect x="444.90" y="320.46" width="17.60" height="93.84" fill="#6b6b6b" stroke="#0a0a0a" stroke-width="1.1"/>
<line x1="453.70" y1="414.30" x2="453.70" y2="417.20" stroke="#0a0a0a" stroke-width="1.2" stroke-linecap="butt"/>
<text transform="translate(455.30,425.55) rotate(-45)" font-size="11.2" text-anchor="end" font-weight="bold"><tspan class='g'>α</tspan>APC C1 Ab</text>
<line x1="479.56" y1="414.02" x2="479.56" y2="413.75" stroke="#0a0a0a" stroke-width="1.1" stroke-linecap="butt"/>
<line x1="475.16" y1="413.75" x2="483.96" y2="413.75" stroke="#0a0a0a" stroke-width="1.2" stroke-linecap="butt"/>
<rect x="470.76" y="414.02" width="17.60" height="0.28" fill="#6b6b6b" stroke="#0a0a0a" stroke-width="1.1"/>
<line x1="479.56" y1="414.30" x2="479.56" y2="417.20" stroke="#0a0a0a" stroke-width="1.2" stroke-linecap="butt"/>
<text transform="translate(481.16,425.55) rotate(-45)" font-size="11.2" text-anchor="end" font-weight="bold">Gla-domainless&#160; <tspan class='b'>β</tspan>FXa</text>
<line x1="505.42" y1="332.05" x2="505.42" y2="328.19" stroke="#0a0a0a" stroke-width="1.1" stroke-linecap="butt"/>
<line x1="501.02" y1="328.19" x2="509.82" y2="328.19" stroke="#0a0a0a" stroke-width="1.2" stroke-linecap="butt"/>
<rect x="496.62" y="332.05" width="17.60" height="82.25" fill="#6b6b6b" stroke="#0a0a0a" stroke-width="1.1"/>
<line x1="505.42" y1="414.30" x2="505.42" y2="417.20" stroke="#0a0a0a" stroke-width="1.2" stroke-linecap="butt"/>
<text transform="translate(507.02,425.55) rotate(-45)" font-size="11.2" text-anchor="end" font-weight="bold"><tspan class='b'>β</tspan>FXa</text>
<line x1="311.30" y1="276.30" x2="311.30" y2="414.95" stroke="#0a0a0a" stroke-width="1.3" stroke-linecap="butt"/>
<line x1="311.30" y1="414.30" x2="518.30" y2="414.30" stroke="#0a0a0a" stroke-width="1.3" stroke-linecap="butt"/>
<line x1="308.10" y1="414.30" x2="311.30" y2="414.30" stroke="#0a0a0a" stroke-width="1.3" stroke-linecap="butt"/>
<text x="307.20" y="417.70" font-size="11.0" text-anchor="end" font-weight="bold" >0</text>
<line x1="308.10" y1="368.30" x2="311.30" y2="368.30" stroke="#0a0a0a" stroke-width="1.3" stroke-linecap="butt"/>
<text x="307.20" y="371.70" font-size="11.0" text-anchor="end" font-weight="bold" >5</text>
<line x1="308.10" y1="322.30" x2="311.30" y2="322.30" stroke="#0a0a0a" stroke-width="1.3" stroke-linecap="butt"/>
<text x="307.20" y="325.70" font-size="11.0" text-anchor="end" font-weight="bold" >10</text>
<line x1="308.10" y1="276.30" x2="311.30" y2="276.30" stroke="#0a0a0a" stroke-width="1.3" stroke-linecap="butt"/>
<text x="307.20" y="279.70" font-size="11.0" text-anchor="end" font-weight="bold" >15</text>
<text transform="translate(282.7,343.5) rotate(-90)" font-size="11.2" text-anchor="middle" font-weight="bold">SEAP-PAR3 cleavage (%)</text>
</svg>
</body>
</html>
